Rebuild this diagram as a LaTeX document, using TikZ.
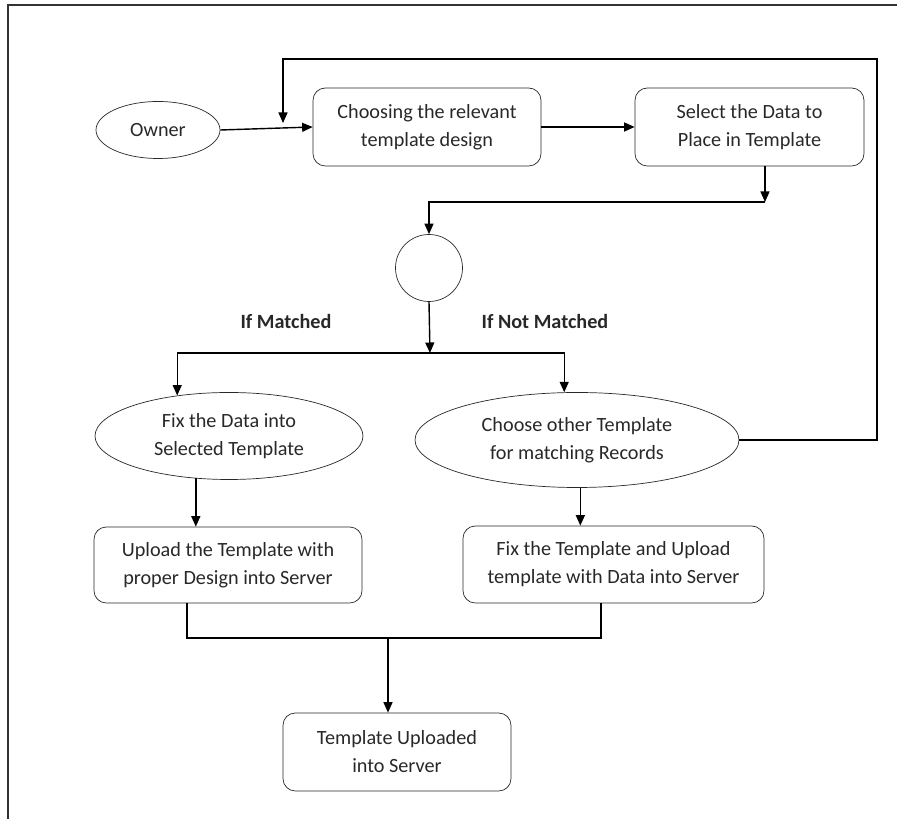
\documentclass[tikz,border=0pt]{standalone}
\usepackage{fontspec}
\setmainfont{Carlito}
\usetikzlibrary{arrows.meta,positioning,shapes.geometric}
\definecolor{ink}{RGB}{40,40,40}
\tikzset{
  >={Triangle[length=2.1mm,width=1.8mm]},
  box/.style={draw=ink,rounded corners=7pt,align=center,text=ink,
    font=\fontsize{11.5}{16}\selectfont,inner sep=0pt},
  oval/.style={ellipse,draw=ink,align=center,text=ink,inner sep=0pt,
    font=\fontsize{11.5}{16}\selectfont},
  tag/.style={font=\fontsize{11.5}{16}\selectfont\bfseries,text=ink},
  flow/.style={->,draw=black,thick},
  link/.style={draw=black,thick},
}
\begin{document}
\begin{tikzpicture}
  \useasboundingbox (0,0) rectangle (17.94,-16.38);
  % frame
  \draw[black!80,thick] (0.16,-16.38) -- (0.16,-0.1) -- (17.94,-0.1);

  \node[oval,minimum width=2.48cm,minimum height=1.14cm] (owner) at (3.16,-2.6) {Owner};
  \node[box,minimum width=4.56cm,minimum height=1.56cm] (choose) at (8.54,-2.54) {Choosing the relevant\\template design};
  \node[box,minimum width=4.58cm,minimum height=1.56cm] (select) at (14.99,-2.54) {Select the Data to\\Place in Template};
  \node[circle,draw=ink,minimum size=1.34cm] (dec) at (8.58,-5.36) {};
  \node[tag] (lm) at (5.72,-6.42) {If Matched};
  \node[tag] (lnm) at (10.9,-6.42) {If Not Matched};
  \node[oval,minimum width=5.36cm,minimum height=1.74cm] (fix) at (4.58,-8.72) {Fix the Data into\\Selected Template};
  \node[oval,minimum width=6.48cm,minimum height=1.9cm] (other) at (11.54,-8.8) {Choose other Template\\for matching Records};
  \node[box,minimum width=5.36cm,minimum height=1.52cm] (upload) at (4.56,-11.3) {Upload the Template with\\proper Design into Server};
  \node[box,minimum width=6.02cm,minimum height=1.54cm] (fixup) at (12.27,-11.29) {Fix the Template and Upload\\template with Data into Server};
  \node[box,minimum width=4.56cm,minimum height=1.56cm] (done) at (7.94,-15.04) {Template Uploaded\\into Server};

  \coordinate (drop) at (15.3,-4.04);
  \coordinate (split) at (8.6,-7.06);
  \coordinate (merge) at (7.76,-12.76);
  \coordinate (loopR) at (17.54,-1.18);
  \coordinate (loopL) at (5.66,-2.46);

  \draw[flow] (owner.east) -- (choose.west);
  \draw[flow] (choose.east) -- (select.west);
  \draw[flow] (select.south -| drop) -- (drop);
  \draw[flow] (drop) -| (dec.north);
  \draw[flow] (dec.south) -- (split);
  \draw[flow] (split) -| (fix.142);
  \draw[flow] (split) -| (other.105);
  \draw[flow] (fix.232) -- (fix.232 |- upload.north);
  \draw[flow] (other.274) -- (other.274 |- fixup.north);
  \draw[link] ([xshift=-0.82cm]upload.south) |- (merge) -| ([xshift=-0.25cm]fixup.south);
  \draw[flow] (merge) -- (merge |- done.north);
  % back to the start
  \draw[flow] (other.east) -| (loopR) -| (loopL);
\end{tikzpicture}
\end{document}
